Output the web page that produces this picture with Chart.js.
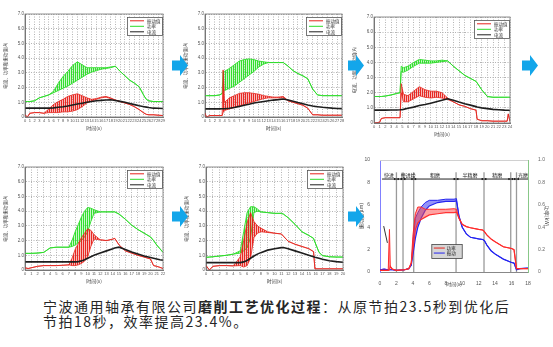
<!DOCTYPE html>
<html>
<head>
<meta charset="utf-8">
<script src="https://cdn.jsdelivr.net/npm/chart.js@4.4.1/dist/chart.umd.min.js"></script>
<style>
  body { margin: 0; background: #fff; width: 553px; height: 347px; position: relative; overflow: hidden; }
  canvas { position: absolute; }
  .arrow { position: absolute; width: 16px; height: 21px; background: #13a6ea;
           clip-path: polygon(0 26%, 50% 26%, 50% 0, 100% 50%, 50% 100%, 50% 74%, 0 74%); }
  .cap { position: absolute; left: 43px; top: 299px; font-family: "Noto Sans CJK SC", sans-serif;
         font-size: 14px; line-height: 15px; letter-spacing: 1.5px; color: #262626; white-space: nowrap; }
  .cap b { font-weight: 600; }
</style>
</head>
<body>
<canvas id="c1"></canvas>
<canvas id="c2"></canvas>
<canvas id="c3"></canvas>
<canvas id="c4"></canvas>
<canvas id="c5"></canvas>
<canvas id="c6"></canvas>

<div class="arrow" style="left:172px;top:55px"></div>
<div class="arrow" style="left:348px;top:55px"></div>
<div class="arrow" style="left:522px;top:55px"></div>
<div class="arrow" style="left:172px;top:206px"></div>
<div class="arrow" style="left:348px;top:206px"></div>

<div class="cap">宁波通用轴承有限公司<b>磨削工艺优化过程</b>：从原节拍23.5秒到优化后<br>节拍18秒，效率提高23.4%。</div>

<script>
// ---- data ----
const seriesNames = ['振动值', '功率', '电流'];
const yTitle = '电流、功率和振动值(A)';
const xTitle = '时间(s)';
const xMaxes = [29, 28, 24, 22, 20];

const c1T = [0, 0.5, 1, 2, 3, 4, 5, 6, 7, 8, 9, 10, 11, 12, 13, 14, 15, 16, 17, 18, 19, 20, 21, 22, 23, 24, 25, 25.5, 26, 27, 28, 29];
const c1GreenLo = [1.05, 1.05, 1.05, 1.1, 1.3, 1.4, 1.5, 1.65, 1.8, 1.95, 2.1, 2.3, 2.5, 2.7, 2.9, 3.05, 3.15, 3.25, 3.3, 3.35, 3.45, 3.1, 2.8, 2.5, 2.3, 2.05, 1.45, 1.2, 1.1, 1.05, 1.05, 1.05];
const c1GreenHi = [1.05, 1.05, 1.05, 1.1, 1.3, 1.4, 1.5, 1.75, 2.3, 2.75, 3.1, 3.5, 3.75, 3.55, 3.35, 3.35, 3.35, 3.35, 3.35, 3.4, 3.45, 3.1, 2.8, 2.5, 2.3, 2.05, 1.45, 1.2, 1.1, 1.05, 1.05, 1.05];
const c1RedLo = [0.15, 0.0, 0.25, 0.3, 0.3, 0.25, 0.3, 0.3, 0.3, 0.35, 0.35, 0.4, 0.5, 0.7, 0.95, 1.1, 1.2, 1.3, 1.35, 1.25, 1.15, 1.05, 0.95, 0.85, 0.7, 0.5, 0.27, 0.18, 0.15, 0.15, 0.12, 0.1];
const c1RedHi = [0.15, 0.0, 0.25, 0.3, 0.3, 0.25, 0.55, 0.85, 1.05, 1.2, 1.4, 1.5, 1.58, 1.45, 1.3, 1.2, 1.25, 1.35, 1.4, 1.3, 1.15, 1.05, 0.95, 0.85, 0.7, 0.5, 0.27, 0.18, 0.15, 0.15, 0.12, 0.1];
const c1Black = [0.6, 0.6, 0.6, 0.6, 0.6, 0.6, 0.6, 0.62, 0.66, 0.7, 0.75, 0.82, 0.88, 0.94, 1.0, 1.05, 1.1, 1.13, 1.16, 1.17, 1.12, 1.06, 1.0, 0.92, 0.84, 0.76, 0.7, 0.67, 0.64, 0.6, 0.59, 0.58];

const c2T = [0, 0.3, 1, 2, 3, 3.5, 3.7, 4, 5, 6, 7, 8, 9, 10, 11, 12, 13, 14, 15, 16, 17, 18, 19, 20, 21, 22, 22.5, 23, 24, 25, 26, 27, 28];
const c2GreenLo = [1.45, 1.45, 1.45, 1.45, 1.5, 1.6, 1.7, 1.8, 1.95, 2.1, 2.35, 2.6, 2.85, 3.1, 3.4, 3.6, 3.7, 3.7, 3.7, 3.7, 3.45, 3.15, 2.95, 2.8, 2.6, 1.9, 1.7, 1.5, 1.45, 1.45, 1.45, 1.45, 1.45];
const c2GreenHi = [1.45, 1.45, 1.45, 1.45, 1.5, 1.6, 3.1, 3.1, 3.3, 3.55, 3.8, 3.9, 3.95, 3.9, 3.8, 3.75, 3.7, 3.7, 3.7, 3.7, 3.45, 3.15, 2.95, 2.8, 2.6, 1.9, 1.7, 1.5, 1.45, 1.45, 1.45, 1.45, 1.45];
const c2RedLo = [0.27, 0.0, 0.1, 0.1, 0.1, 0.1, 0.3, 0.45, 0.55, 0.65, 0.75, 0.85, 0.95, 1.05, 1.15, 1.25, 1.3, 1.3, 1.3, 1.3, 1.1, 1.0, 0.9, 0.8, 0.6, 0.15, 0.15, 0.15, 0.12, 0.12, 0.12, 0.12, 0.12];
const c2RedHi = [0.27, 0.0, 0.1, 0.1, 0.1, 0.1, 3.2, 1.0, 1.3, 1.45, 1.6, 1.65, 1.65, 1.6, 1.55, 1.45, 1.4, 1.35, 1.35, 1.4, 1.1, 1.0, 0.9, 0.8, 0.6, 0.15, 0.15, 0.15, 0.12, 0.12, 0.12, 0.12, 0.12];
const c2Black = [0.55, 0.55, 0.55, 0.55, 0.55, 0.56, 0.56, 0.56, 0.6, 0.65, 0.72, 0.8, 0.87, 0.95, 1.0, 1.05, 1.1, 1.15, 1.18, 1.22, 1.15, 1.07, 0.98, 0.9, 0.82, 0.75, 0.72, 0.7, 0.66, 0.63, 0.6, 0.58, 0.57];

const c3T = [0, 1, 1.3, 2, 3, 4, 4.6, 4.8, 5.2, 6, 7, 8, 9, 10, 11, 12, 13, 14, 15, 16, 17, 18, 18.2, 19, 20, 21, 22, 23, 23.5, 23.7, 24];
const c3GreenLo = [1.75, 1.75, 1.75, 1.78, 1.85, 1.95, 2.0, 3.4, 3.35, 3.5, 3.75, 3.95, 3.95, 3.95, 4.0, 4.05, 4.1, 3.75, 3.45, 3.15, 2.95, 2.75, 2.65, 2.2, 1.75, 1.7, 1.7, 1.7, 1.7, 1.7, 1.7];
const c3GreenHi = [1.75, 1.75, 1.75, 1.78, 1.85, 1.95, 2.0, 3.75, 3.65, 3.75, 4.0, 4.2, 4.15, 4.1, 4.1, 4.15, 4.1, 3.75, 3.45, 3.15, 2.95, 2.75, 2.65, 2.2, 1.75, 1.7, 1.7, 1.7, 1.7, 1.7, 1.7];
const c3RedLo = [0.0, 0.05, 0.3, 0.35, 0.35, 0.35, 0.35, 2.0, 1.4, 1.4, 1.6, 1.8, 1.7, 1.65, 1.7, 1.65, 1.55, 1.4, 1.2, 1.1, 0.95, 0.85, 0.25, 0.15, 0.15, 0.12, 0.12, 0.12, 0.12, 0.6, 0.1];
const c3RedHi = [0.0, 0.05, 0.3, 0.35, 0.35, 0.35, 0.35, 2.6, 1.9, 1.8, 2.1, 2.4, 2.2, 2.1, 2.1, 2.0, 1.65, 1.4, 1.2, 1.1, 0.95, 0.85, 0.25, 0.15, 0.15, 0.12, 0.12, 0.12, 0.12, 0.6, 0.1];
const c3Black = [0.85, 0.85, 0.85, 0.85, 0.86, 0.86, 0.87, 0.88, 0.9, 0.97, 1.05, 1.15, 1.22, 1.3, 1.4, 1.5, 1.6, 1.5, 1.38, 1.27, 1.18, 1.08, 1.06, 1.0, 0.95, 0.9, 0.88, 0.85, 0.84, 0.84, 0.83];

const c4T = [0, 0.5, 1, 2, 3, 4, 5, 6, 7, 7.5, 8, 8.5, 9, 9.5, 10, 10.5, 11, 12, 13, 14, 14.3, 15, 16, 17, 18, 19, 20, 20.5, 21, 21.5, 22];
const c4GreenLo = [1.13, 1.13, 1.13, 1.15, 1.2, 1.5, 1.55, 1.55, 1.55, 1.6, 1.7, 1.85, 2.0, 2.25, 2.6, 3.3, 3.85, 3.95, 3.95, 3.95, 3.95, 3.8, 3.45, 3.05, 2.75, 2.5, 2.25, 2.0, 1.7, 1.45, 1.2];
const c4GreenHi = [1.13, 1.13, 1.13, 1.15, 1.2, 1.5, 1.55, 1.55, 1.55, 2.0, 2.6, 3.1, 3.6, 4.0, 4.25, 4.2, 4.1, 3.95, 3.95, 3.95, 3.95, 3.8, 3.45, 3.05, 2.75, 2.5, 2.25, 2.0, 1.7, 1.45, 1.2];
const c4RedLo = [0.15, 0.1, 0.15, 0.25, 0.3, 0.3, 0.3, 0.32, 0.35, 0.3, 0.3, 0.35, 0.45, 0.6, 0.9, 1.6, 2.1, 2.05, 2.0, 2.1, 2.15, 1.7, 1.3, 1.15, 1.0, 0.88, 0.75, 0.3, 0.25, 0.18, 0.1];
const c4RedHi = [0.15, 0.1, 0.15, 0.25, 0.3, 0.3, 0.3, 0.32, 0.35, 0.8, 1.4, 1.8, 2.2, 2.5, 2.8, 2.7, 2.4, 2.05, 2.0, 2.1, 2.15, 1.7, 1.3, 1.15, 1.0, 0.88, 0.75, 0.3, 0.25, 0.18, 0.1];
const c4Black = [0.55, 0.55, 0.55, 0.55, 0.55, 0.55, 0.55, 0.55, 0.55, 0.55, 0.55, 0.57, 0.62, 0.7, 0.8, 0.9, 1.0, 1.15, 1.3, 1.45, 1.5, 1.55, 1.4, 1.22, 1.08, 0.95, 0.85, 0.8, 0.75, 0.7, 0.67];

const c5T = [0, 0.5, 1, 2, 3, 4, 5, 5.5, 6, 6.5, 7, 7.5, 8, 9, 10, 11, 11.3, 12, 13, 14, 15, 15.7, 15.9, 16.5, 17, 18, 19, 20];
const c5GreenLo = [0.86, 0.88, 0.9, 0.95, 1.0, 1.08, 1.15, 1.3, 1.5, 2.2, 3.9, 4.0, 3.95, 3.9, 3.85, 3.85, 3.8, 3.55, 3.1, 2.6, 2.35, 2.15, 1.9, 1.2, 0.98, 0.9, 0.88, 0.88];
const c5GreenHi = [0.86, 0.88, 0.9, 0.95, 1.0, 1.08, 1.3, 2.6, 3.9, 4.3, 4.3, 4.15, 3.95, 3.9, 3.85, 3.85, 3.8, 3.55, 3.1, 2.6, 2.35, 2.15, 1.9, 1.2, 0.98, 0.9, 0.88, 0.88];
const c5RedLo = [0.3, 0.0, 0.25, 0.3, 0.3, 0.28, 0.3, 0.2, 0.3, 0.8, 2.2, 2.5, 2.6, 2.55, 2.5, 2.45, 2.3, 1.95, 1.75, 1.6, 1.45, 1.25, 0.08, 0.08, 0.08, 0.08, 0.08, 0.08];
const c5RedHi = [0.3, 0.0, 0.25, 0.3, 0.3, 0.28, 0.9, 2.0, 3.2, 3.9, 3.3, 3.0, 2.85, 2.6, 2.5, 2.45, 2.3, 1.95, 1.75, 1.6, 1.45, 1.25, 0.08, 0.08, 0.08, 0.08, 0.08, 0.08];
const c5Black = [0.5, 0.5, 0.5, 0.5, 0.5, 0.5, 0.5, 0.55, 0.65, 0.8, 0.95, 1.08, 1.18, 1.35, 1.45, 1.52, 1.53, 1.45, 1.3, 1.15, 1.0, 0.9, 0.87, 0.8, 0.73, 0.63, 0.57, 0.53];

// last chart: optimised cycle
const c6Names = ['功率', '振动'];
const c6T = [0, 0.5, 1, 1.15, 1.25, 1.5, 2, 3, 3.5, 3.8, 4.0, 4.3, 4.6, 5, 5.5, 6, 7, 8, 9, 9.3, 9.6, 10, 10.5, 11, 12, 12.5, 12.7, 13, 13.5, 14, 15, 16, 16.3, 16.6, 17, 18];
const c6RedLo = [0.15, 0.15, 0.15, 0.2, 0.5, 0.25, 0.15, 0.2, 0.3, 0.8, 2.0, 3.8, 4.4, 4.7, 4.9, 5.1, 5.2, 5.3, 5.3, 5.35, 4.8, 4.25, 4.05, 3.95, 3.8, 3.75, 3.6, 3.3, 2.95, 2.7, 2.25, 2.1, 2.0, 0.3, 0.3, 0.3];
const c6RedHi = [0.15, 0.15, 0.15, 3.8, 0.5, 0.25, 0.15, 0.2, 0.3, 0.8, 3.2, 5.2, 5.8, 5.8, 5.6, 5.6, 5.6, 5.6, 5.65, 5.6, 4.8, 4.25, 4.05, 3.95, 3.8, 3.75, 3.6, 3.3, 2.95, 2.7, 2.25, 2.1, 2.0, 0.3, 0.3, 0.3];
const c6BlueLo = [0.2, 0.25, 0.2, 0.2, 0.2, 0.2, 0.15, 0.2, 0.3, 0.6, 1.5, 3.0, 4.0, 4.8, 5.5, 5.9, 6.2, 6.3, 6.3, 6.35, 5.0, 4.0, 3.4, 3.1, 2.95, 2.9, 2.8, 2.4, 1.9, 1.6, 1.15, 0.85, 0.8, 0.2, 0.3, 0.35];
const c6BlueHi = [0.2, 0.25, 0.2, 0.2, 0.2, 0.2, 0.15, 0.2, 0.3, 0.6, 2.5, 4.8, 5.3, 5.8, 6.2, 6.4, 6.4, 6.5, 6.5, 6.55, 5.0, 4.0, 3.4, 3.1, 2.95, 2.9, 2.8, 2.4, 1.9, 1.6, 1.15, 0.85, 0.8, 0.2, 0.3, 0.35];
const c6NoteX = [0.45, 0.9];
const c6NoteY = [4.1, 2.6];
const c6PhaseLines = [2.0, 2.8, 4.1, 9.25, 12.65, 15.9, 16.6];
const c6PhaseNames = ['快进', '慢进给', '粗磨', '半精磨', '精磨', '光磨'];
const c6PhaseAt = [1.1, 3.45, 6.7, 10.95, 14.25, 17.4];
const c6LeftTitle = '振动值(μm)';
const c6RightTitle = '功率(kW)';

// ---- drawing ----
Chart.defaults.font.family = '"Liberation Sans", "Noto Sans CJK SC", sans-serif';
Chart.defaults.color = '#555';
Chart.defaults.animation = false;
const cjk = '"Noto Sans CJK SC", sans-serif';

const GREEN = '#2edc2a', RED = '#e5231c', BLACK = '#1e1e1e';

// vertical stripe pattern so the oscillating band looks like dense lines
function stripes(strong, weak) {
  const p = document.createElement('canvas');
  p.width = 2; p.height = 1;
  const g = p.getContext('2d');
  g.fillStyle = strong; g.fillRect(0, 0, 1, 1);
  g.fillStyle = weak; g.fillRect(1, 0, 1, 1);
  return g.createPattern(p, 'repeat');
}
const greenBand = stripes('rgba(40,222,36,0.95)', 'rgba(40,222,36,0.25)');
const redBand = stripes('rgba(232,30,24,0.95)', 'rgba(232,30,24,0.3)');

function pts(T, arr) {
  return T.map((t, i) => ({ x: t, y: arr[i] }));
}

function place(id, r, leftW, rightW, padT, xH) {
  const el = document.getElementById(id);
  const w = r.r - r.l + leftW + rightW;
  const h = r.b - r.t + padT + xH;
  el.width = w; el.height = h;
  el.style.left = (r.l - leftW) + 'px';
  el.style.top = (r.t - padT) + 'px';
  el.style.width = w + 'px';
  el.style.height = h + 'px';
  return el;
}

// box + legend in the top right corner of the small charts
const framePlugin = {
  id: 'frame',
  afterDraw(chart) {
    const { ctx, chartArea: a } = chart;
    ctx.save();
    ctx.strokeStyle = '#777';
    ctx.lineWidth = 0.8;
    ctx.strokeRect(a.left, a.top, a.right - a.left, a.bottom - a.top);
    const w = 35, h = 18, x = a.right - w - 1, y = a.top + 3;
    ctx.fillStyle = '#fff';
    ctx.fillRect(x, y, w, h);
    ctx.strokeStyle = '#555';
    ctx.strokeRect(x + 0.5, y + 0.5, w, h);
    const cols = [RED, GREEN, BLACK];
    seriesNames.forEach((n, i) => {
      const yy = y + 3.8 + i * 5.5;
      ctx.strokeStyle = cols[i];
      ctx.lineWidth = 1;
      ctx.beginPath(); ctx.moveTo(x + 3, yy); ctx.lineTo(x + 17, yy); ctx.stroke();
      ctx.fillStyle = '#333';
      ctx.font = '4.5px ' + cjk;
      ctx.textBaseline = 'middle';
      ctx.fillText(n, x + 20, yy);
    });
    ctx.restore();
  }
};

function smallChart(id, r, xMax, T, gLo, gHi, rLo, rHi, k) {
  const yW = 22, padR = 6, padT = 5, xH = 14;
  const el = place(id, r, yW, padR, padT, xH);
  new Chart(el, {
    type: 'line',
    data: {
      datasets: [
        { data: pts(T, k), borderColor: BLACK, borderWidth: 1.6 },
        { data: pts(T, rHi), borderColor: RED, borderWidth: 0.8, fill: '+1', backgroundColor: redBand },
        { data: pts(T, rLo), borderColor: RED, borderWidth: 0.8 },
        { data: pts(T, gHi), borderColor: GREEN, borderWidth: 0.9, fill: '+1', backgroundColor: greenBand },
        { data: pts(T, gLo), borderColor: GREEN, borderWidth: 0.9 }
      ]
    },
    options: {
      responsive: false,
      events: [],
      layout: { padding: { top: padT, right: padR, left: 0, bottom: 0 } },
      elements: { point: { radius: 0 }, line: { tension: 0 } },
      plugins: { legend: { display: false }, tooltip: { enabled: false } },
      scales: {
        x: {
          type: 'linear', min: 0, max: xMax,
          ticks: { stepSize: 1, autoSkip: false, maxRotation: 0, font: { size: 4 }, padding: 1 },
          grid: { color: '#b4b4b4', lineWidth: 1, drawTicks: false },
          border: { color: '#777', dash: [1, 1.5] },
          title: { display: true, text: xTitle, font: { size: 5, family: cjk }, padding: 0, color: '#444' },
          afterFit(s) { s.height = xH; }
        },
        y: {
          min: 0, max: 7,
          ticks: { stepSize: 0.5, font: { size: 4.5 }, padding: 1 },
          grid: { color: '#b4b4b4', lineWidth: 1, drawTicks: false },
          border: { color: '#777', dash: [1, 1.5] },
          title: { display: true, text: yTitle, font: { size: 4.5, family: cjk }, padding: 0, color: '#444' },
          afterFit(s) { s.width = yW; }
        }
      }
    },
    plugins: [framePlugin]
  });
}

smallChart('c1', { l: 25, t: 14, r: 163, b: 117 }, xMaxes[0], c1T, c1GreenLo, c1GreenHi, c1RedLo, c1RedHi, c1Black);
smallChart('c2', { l: 205, t: 14, r: 342, b: 117 }, xMaxes[1], c2T, c2GreenLo, c2GreenHi, c2RedLo, c2RedHi, c2Black);
smallChart('c3', { l: 374, t: 17, r: 510, b: 123 }, xMaxes[2], c3T, c3GreenLo, c3GreenHi, c3RedLo, c3RedHi, c3Black);
smallChart('c4', { l: 25, t: 167, r: 163, b: 270 }, xMaxes[3], c4T, c4GreenLo, c4GreenHi, c4RedLo, c4RedHi, c4Black);
smallChart('c5', { l: 206, t: 167, r: 343, b: 270 }, xMaxes[4], c5T, c5GreenLo, c5GreenHi, c5RedLo, c5RedHi, c5Black);

// phase markers, legend and top border for the last chart
const phasePlugin = {
  id: 'phases',
  beforeDatasetsDraw(chart) {
    const { ctx, scales: { x, y } } = chart;
    ctx.save();
    ctx.strokeStyle = '#9a9a9a';
    ctx.lineWidth = 1.3;
    c6PhaseLines.forEach(v => {
      const px = x.getPixelForValue(v);
      ctx.beginPath(); ctx.moveTo(px, y.getPixelForValue(0)); ctx.lineTo(px, y.getPixelForValue(8.9)); ctx.stroke();
    });
    ctx.restore();
  },
  afterDraw(chart) {
    const { ctx, chartArea: a, scales: { x, y } } = chart;
    ctx.save();
    ctx.strokeStyle = '#d0d0d0';
    ctx.lineWidth = 1;
    ctx.beginPath(); ctx.moveTo(a.left, a.top + 0.5); ctx.lineTo(a.right, a.top + 0.5); ctx.stroke();
    const ly = y.getPixelForValue(8.3);
    ctx.strokeStyle = '#222';
    ctx.beginPath(); ctx.moveTo(x.getPixelForValue(0.25), ly); ctx.lineTo(x.getPixelForValue(18), ly); ctx.stroke();
    ctx.fillStyle = '#222';
    c6PhaseLines.forEach(v => {
      const px = x.getPixelForValue(v);
      ctx.fillRect(px - 2.5, ly - 1, 1.5, 2);
      ctx.fillRect(px + 1, ly - 1, 1.5, 2);
    });
    ctx.font = '5px ' + cjk;
    ctx.textAlign = 'center';
    ctx.textBaseline = 'bottom';
    c6PhaseNames.forEach((n, i) => ctx.fillText(n, x.getPixelForValue(c6PhaseAt[i]), ly - 1));
    // legend box
    const lx = x.getPixelForValue(6.3), rx = x.getPixelForValue(10.0);
    const ty = y.getPixelForValue(2.45), by = y.getPixelForValue(1.2);
    ctx.fillStyle = '#d6d6d6';
    ctx.fillRect(lx, ty, rx - lx, by - ty);
    ctx.strokeStyle = '#444';
    ctx.lineWidth = 0.8;
    ctx.strokeRect(lx, ty, rx - lx, by - ty);
    [RED, '#2424f0'].forEach((c, i) => {
      const yy = ty + 3.5 + i * 5;
      ctx.strokeStyle = c;
      ctx.lineWidth = 1;
      ctx.beginPath(); ctx.moveTo(lx + 2, yy); ctx.lineTo(lx + 13, yy); ctx.stroke();
      ctx.fillStyle = '#222';
      ctx.textAlign = 'left';
      ctx.textBaseline = 'middle';
      ctx.font = '4.5px ' + cjk;
      ctx.fillText(c6Names[i], lx + 15, yy);
    });
    ctx.restore();
  }
};

(function () {
  const r = { l: 380, t: 160, r: 528, b: 272 };
  const yW = 22, y2W = 22, padT = 6, xH = 15;
  const el = place('c6', r, yW, y2W, padT, xH);
  new Chart(el, {
    type: 'line',
    data: {
      datasets: [
        { data: pts(c6NoteX, c6NoteY), borderColor: '#333', borderWidth: 1, yAxisID: 'y' },
        { data: pts(c6T, c6RedHi), borderColor: '#ff2a2a', borderWidth: 1, fill: '+1', backgroundColor: 'rgba(255,70,70,0.5)', yAxisID: 'y' },
        { data: pts(c6T, c6RedLo), borderColor: '#ff2a2a', borderWidth: 1.2, yAxisID: 'y' },
        { data: pts(c6T, c6BlueHi), borderColor: '#2424f0', borderWidth: 1, fill: '+1', backgroundColor: 'rgba(40,40,240,0.5)', yAxisID: 'y' },
        { data: pts(c6T, c6BlueLo), borderColor: '#2424f0', borderWidth: 1.2, yAxisID: 'y' }
      ]
    },
    options: {
      responsive: false,
      events: [],
      layout: { padding: { top: padT, right: 0, left: 0, bottom: 0 } },
      elements: { point: { radius: 0 }, line: { tension: 0 } },
      plugins: { legend: { display: false }, tooltip: { enabled: false } },
      scales: {
        x: {
          type: 'linear', min: 0, max: 18,
          ticks: { stepSize: 2, autoSkip: false, maxRotation: 0, font: { size: 5 }, padding: 1 },
          grid: { display: false },
          border: { color: '#888' },
          title: { display: true, text: xTitle, font: { size: 5, family: cjk }, padding: 0, color: '#444' },
          afterFit(s) { s.height = xH; }
        },
        y: {
          position: 'left', min: 0, max: 10,
          ticks: { stepSize: 2, font: { size: 5 }, padding: 2 },
          grid: { display: false },
          border: { color: '#8080ff' },
          title: { display: true, text: c6LeftTitle, font: { size: 5, family: cjk }, padding: 0, color: '#444' },
          afterFit(s) { s.width = yW; }
        },
        y2: {
          position: 'right', min: 0, max: 1,
          ticks: { stepSize: 0.2, font: { size: 5 }, padding: 2, color: '#666' },
          grid: { display: false },
          border: { color: '#88c888' },
          title: { display: true, text: c6RightTitle, font: { size: 5, family: cjk }, padding: 0, color: '#444' },
          afterFit(s) { s.width = y2W; }
        }
      }
    },
    plugins: [phasePlugin]
  });
})();
</script>
</body>
</html>
